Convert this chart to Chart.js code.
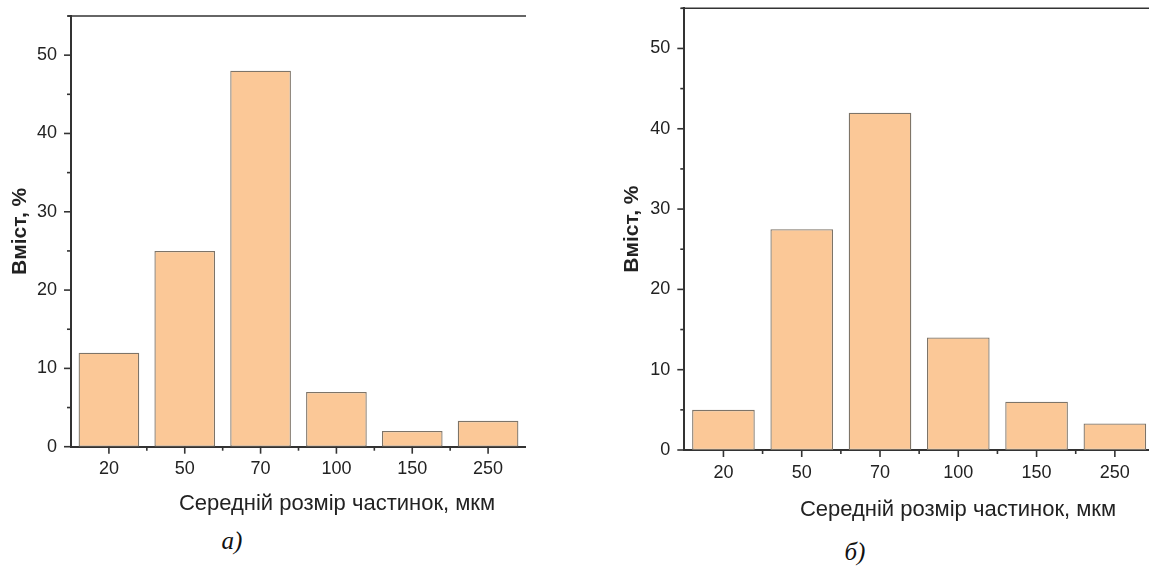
<!DOCTYPE html>
<html>
<head>
<meta charset="utf-8">
<script src="https://cdn.jsdelivr.net/npm/chart.js@4"></script>
<style>
  html, body { margin: 0; padding: 0; width: 1149px; height: 567px; overflow: hidden; background: #fff; }
  .box { position: absolute; }
  .cap { position: absolute; font-family: "Liberation Serif", "DejaVu Serif", serif; font-style: italic; font-size: 25px; color: #111; transform: translate(-50%, -50%); white-space: nowrap; }
  .xt { position: absolute; font-family: "Liberation Sans", Arial, sans-serif; font-size: 22px; color: #222; transform: translate(-50%, -50%); white-space: nowrap; }
</style>
</head>
<body>
<div class="box" style="left:0px; top:-20px; width:526px; height:534px;"><canvas id="chartA"></canvas></div>
<div class="box" style="left:600px; top:-20px; width:554px; height:540px;"><canvas id="chartB"></canvas></div>
<div class="xt" id="xtA" style="left:337px; top:503px;"></div>
<div class="xt" id="xtB" style="left:958px; top:509px;"></div>
<div class="cap" style="left:232px; top:541px;">а)</div>
<div class="cap" style="left:855px; top:552px;">б)</div>
<script>
const categories = ['20', '50', '70', '100', '150', '250'];
const contentA = [12, 25, 48, 7, 2, 3.3];
const contentB = [5, 27.5, 42, 14, 6, 3.3];
const yMax = 55;
const xTitle = 'Середній розмір частинок, мкм';
const yTitle = 'Вміст, %';

const fontFamily = '"Liberation Sans", Arial, sans-serif';
const axisColor = '#333';

document.getElementById('xtA').textContent = xTitle;
document.getElementById('xtB').textContent = xTitle;

// extra ticks and the top frame line, taken from the chart's own scales
const axisDecor = {
  id: 'axisDecor',
  afterDraw(chart) {
    const { ctx, chartArea: a, scales: { x, y } } = chart;
    ctx.save();
    ctx.strokeStyle = axisColor;
    ctx.lineWidth = 1.6;
    const line = (x1, y1, x2, y2) => {
      ctx.beginPath(); ctx.moveTo(x1, y1); ctx.lineTo(x2, y2); ctx.stroke();
    };
    line(a.left - 3, a.top, a.right, a.top);
    for (let v = 0; v <= y.max; v += 5) {
      const py = y.getPixelForValue(v);
      line(a.left - (v % 10 === 0 ? 7 : 4), py, a.left, py);
    }
    categories.forEach((c, i) => {
      const px = x.getPixelForValue(i);
      line(px, a.bottom, px, a.bottom + 7);
      if (i < categories.length - 1) {
        const bx = x.getPixelForValue(i + 0.5);
        line(bx, a.bottom, bx, a.bottom + 4);
      }
    });
    ctx.restore();
  }
};

function makeChart(canvasId, values, opts) {
  return new Chart(document.getElementById(canvasId), {
    type: 'bar',
    data: {
      labels: categories,
      datasets: [{
        data: values,
        backgroundColor: '#fbc897',
        borderColor: '#7d7468',
        borderWidth: 1.3,
        borderSkipped: false,
        barPercentage: 0.8,
        categoryPercentage: 1.0
      }]
    },
    options: {
      responsive: true,
      maintainAspectRatio: false,
      animation: false,
      layout: { padding: { left: 0, right: 0, top: opts.top, bottom: 0 } },
      plugins: { legend: { display: false }, tooltip: { enabled: false } },
      scales: {
        x: {
          offset: true,
          grid: { display: false, drawTicks: false },
          border: { display: true, color: axisColor, width: 2 },
          ticks: { color: '#222', padding: 12, font: { family: fontFamily, size: 18 } },
          afterFit: s => { s.height = opts.xHeight; }
        },
        y: {
          min: 0,
          max: yMax,
          grid: { display: false, drawTicks: false },
          border: { display: true, color: axisColor, width: 2 },
          ticks: {
            stepSize: 5,
            color: '#222',
            padding: 14,
            font: { family: fontFamily, size: 18 },
            callback: v => (v % 10 === 0 ? v : '')
          },
          title: { display: true, text: yTitle, color: '#222', padding: { top: opts.titlePad, bottom: 0 }, font: { family: fontFamily, size: 21, weight: 'bold' } },
          afterFit: s => { s.width = opts.yWidth; }
        }
      }
    },
    plugins: [axisDecor]
  });
}

makeChart('chartA', contentA, { top: 36, xHeight: 67.3, yWidth: 71, titlePad: 7.5 });
makeChart('chartB', contentB, { top: 28.3, xHeight: 70, yWidth: 84.3, titlePad: 19.5 });
</script>
</body>
</html>
